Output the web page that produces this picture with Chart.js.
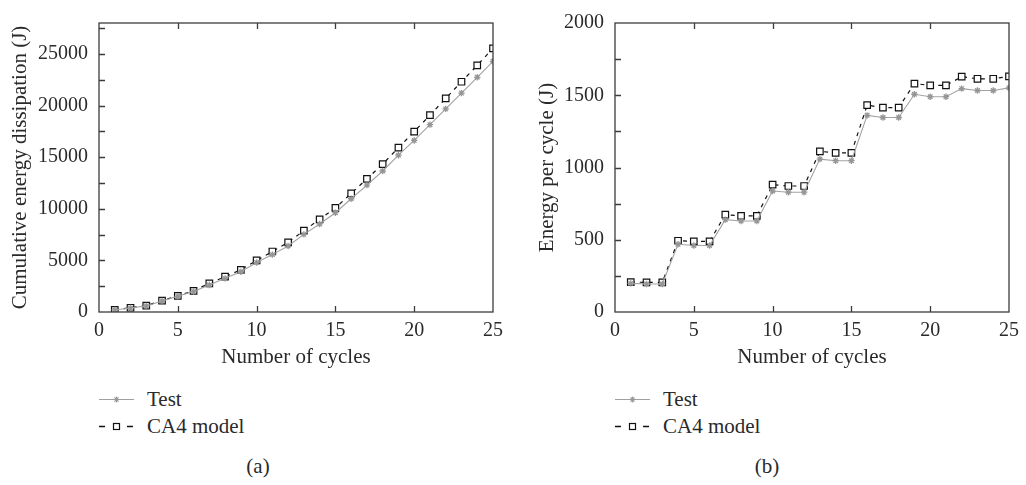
<!DOCTYPE html>
<html>
<head>
<meta charset="utf-8">
<script src="https://cdn.jsdelivr.net/npm/chart.js@4.4.1/dist/chart.umd.min.js"></script>
<style>
  html, body { margin: 0; padding: 0; background: #fff; }
  body { width: 1026px; height: 485px; position: relative; overflow: hidden;
         font-family: "Liberation Serif", "DejaVu Serif", serif; color: #2a2a2a; }
  canvas { position: absolute; top: 0; }
  #chart-a { left: 0; }
  #chart-b { left: 527px; }
  .legend { position: absolute; top: 386px; font-size: 21px; line-height: 27px; }
  .legend div { height: 27px; white-space: nowrap; }
  .legend svg { vertical-align: top; margin-right: 13px; margin-top: 1px; }
  .caption { position: absolute; top: 454px; font-size: 21px; line-height: 24px;
             width: 60px; text-align: center; }
</style>
</head>
<body>
<canvas id="chart-a" width="510" height="372"></canvas>
<canvas id="chart-b" width="499" height="372"></canvas>

<div class="legend" style="left: 99px;">
  <div><svg width="35" height="24"><line x1="0" y1="12.5" x2="35" y2="12.5" stroke="#a0a0a0" stroke-width="1"/><path d="M14.5 12.5h6M17.5 9.5v6M15.4 10.4l4.2 4.2M19.6 10.4l-4.2 4.2" stroke="#999" stroke-width="1.2"/></svg>Test</div>
  <div><svg width="35" height="24"><path d="M0 12.5h6M28 12.5h6" stroke="#111" stroke-width="1.3"/><rect x="14.5" y="9.5" width="6" height="6" fill="#fff" stroke="#111" stroke-width="1.2"/></svg>CA4 model</div>
</div>
<div class="legend" style="left: 615px;">
  <div><svg width="35" height="24"><line x1="0" y1="12.5" x2="35" y2="12.5" stroke="#a0a0a0" stroke-width="1"/><path d="M14.5 12.5h6M17.5 9.5v6M15.4 10.4l4.2 4.2M19.6 10.4l-4.2 4.2" stroke="#999" stroke-width="1.2"/></svg>Test</div>
  <div><svg width="35" height="24"><path d="M0 12.5h6M28 12.5h6" stroke="#111" stroke-width="1.3"/><rect x="14.5" y="9.5" width="6" height="6" fill="#fff" stroke="#111" stroke-width="1.2"/></svg>CA4 model</div>
</div>
<div class="caption" style="left: 228px;">(a)</div>
<div class="caption" style="left: 737px;">(b)</div>

<script>
const cycles = [1, 2, 3, 4, 5, 6, 7, 8, 9, 10, 11, 12, 13, 14, 15, 16, 17, 18, 19, 20, 21, 22, 23, 24, 25];

// (a) cumulative energy dissipation (J)
const cumTest = [200, 390, 590, 1060, 1520, 1990, 2620, 3260, 3900, 4790, 5560, 6390, 7520,
  8530, 9620, 10970, 12290, 13660, 15190, 16620, 18150, 19680, 21210, 22740, 24290];
const cumModel = [210, 410, 620, 1110, 1560, 2050, 2780, 3420, 4090, 5000, 5860, 6750, 7880,
  8980, 10080, 11490, 12900, 14330, 15920, 17480, 19070, 20690, 22310, 23900, 25550];

// (b) energy per cycle (J)
const perTest = [198, 194, 194, 469, 460, 460, 639, 630, 630, 837, 829, 829, 1058, 1047, 1047,
  1361, 1346, 1346, 1507, 1490, 1490, 1546, 1533, 1533, 1551];
const perModel = [207, 205, 205, 493, 489, 489, 674, 665, 665, 881, 872, 872, 1112, 1101, 1101,
  1431, 1415, 1415, 1581, 1568, 1568, 1629, 1614, 1614, 1631];

const xTicks = [0, 5, 10, 15, 20, 25];
const yTicksA = [0, 5000, 10000, 15000, 20000, 25000];
const yTicksB = [0, 500, 1000, 1500, 2000];

const FONT = { family: "'Liberation Serif', 'DejaVu Serif', serif", size: 20 };
const TITLE_FONT = { family: "'Liberation Serif', 'DejaVu Serif', serif", size: 21 };
const TEXT = "#2a2a2a";
const FRAME = "#3c3c3c";

// frame + inward tick marks (bottom, top mirror, left with minor ticks)
const frameTicks = {
  id: "frameTicks",
  afterDatasetsDraw(chart, args, opts) {
    const { ctx, chartArea: a, scales: { x, y } } = chart;
    const len = 6;
    ctx.save();
    ctx.strokeStyle = FRAME;
    ctx.lineWidth = 1.3;
    ctx.strokeRect(a.left, a.top, a.right - a.left, a.bottom - a.top);
    ctx.beginPath();
    for (const t of x.ticks) {
      const px = Math.round(x.getPixelForValue(t.value)) + 0.5;
      if (px <= a.left + 1 || px >= a.right - 1) continue;
      ctx.moveTo(px, a.bottom); ctx.lineTo(px, a.bottom - len);
      ctx.moveTo(px, a.top); ctx.lineTo(px, a.top + len);
    }
    for (let v = 0; v <= y.max; v += opts.minor) {
      const py = Math.round(y.getPixelForValue(v)) + 0.5;
      if (py >= a.bottom - 1 || py <= a.top + 1) continue;
      ctx.moveTo(a.left, py); ctx.lineTo(a.left + len, py);
    }
    ctx.stroke();
    ctx.restore();
  },
};

function makeChart(id, testData, modelData, yMax, yTicks, minor, yTitle, yWidth, padRight) {
  return new Chart(document.getElementById(id), {
    type: "line",
    data: {
      labels: cycles,
      datasets: [
        {
          label: "Test",
          data: cycles.map((c, i) => ({ x: c, y: testData[i] })),
          borderColor: "#a3a3a3",
          borderWidth: 1.1,
          pointStyle: "star",
          pointRadius: 3.2,
          pointBorderColor: "#969696",
          pointBorderWidth: 1.3,
          tension: 0,
        },
        {
          label: "CA4 model",
          data: cycles.map((c, i) => ({ x: c, y: modelData[i] })),
          borderColor: "#111",
          borderWidth: 1.2,
          borderDash: [4, 5],
          pointStyle: "rect",
          pointRadius: 4.6,
          pointBackgroundColor: "#fff",
          pointBorderColor: "#111",
          pointBorderWidth: 1.2,
          tension: 0,
        },
      ],
    },
    options: {
      responsive: false,
      animation: false,
      devicePixelRatio: 1,
      layout: { padding: { left: 8, right: padRight, top: 7, bottom: 0 } },
      plugins: { legend: { display: false }, tooltip: { enabled: false }, frameTicks: { minor } },
      scales: {
        x: {
          type: "linear",
          min: 0,
          max: 25,
          afterBuildTicks: (s) => { s.ticks = xTicks.map((v) => ({ value: v })); },
          afterFit: (s) => { s.height = 60; },
          grid: { display: false, drawTicks: false },
          border: { display: false },
          ticks: { font: FONT, color: TEXT, padding: 7, maxRotation: 0, callback: (v) => String(v) },
          title: { display: true, text: "Number of cycles", font: TITLE_FONT, color: TEXT,
                   padding: { top: 0, bottom: 2 } },
        },
        y: {
          type: "linear",
          min: 0,
          max: yMax,
          afterBuildTicks: (s) => { s.ticks = yTicks.map((v) => ({ value: v })); },
          afterFit: (s) => { s.width = yWidth; },
          grid: { display: false, drawTicks: false },
          border: { display: false },
          ticks: { font: FONT, color: TEXT, padding: 11, callback: (v) => String(v) },
          title: { display: true, text: yTitle, font: TITLE_FONT, color: TEXT,
                   padding: { top: 0, bottom: 0 } },
        },
      },
    },
    plugins: [frameTicks],
  });
}

makeChart("chart-a", cumTest, cumModel, 28000, yTicksA, 2500,
  "Cumulative energy dissipation (J)", 91, 12);
makeChart("chart-b", perTest, perModel, 2000, yTicksB, 250,
  "Energy per cycle (J)", 80, 13);
</script>
</body>
</html>
